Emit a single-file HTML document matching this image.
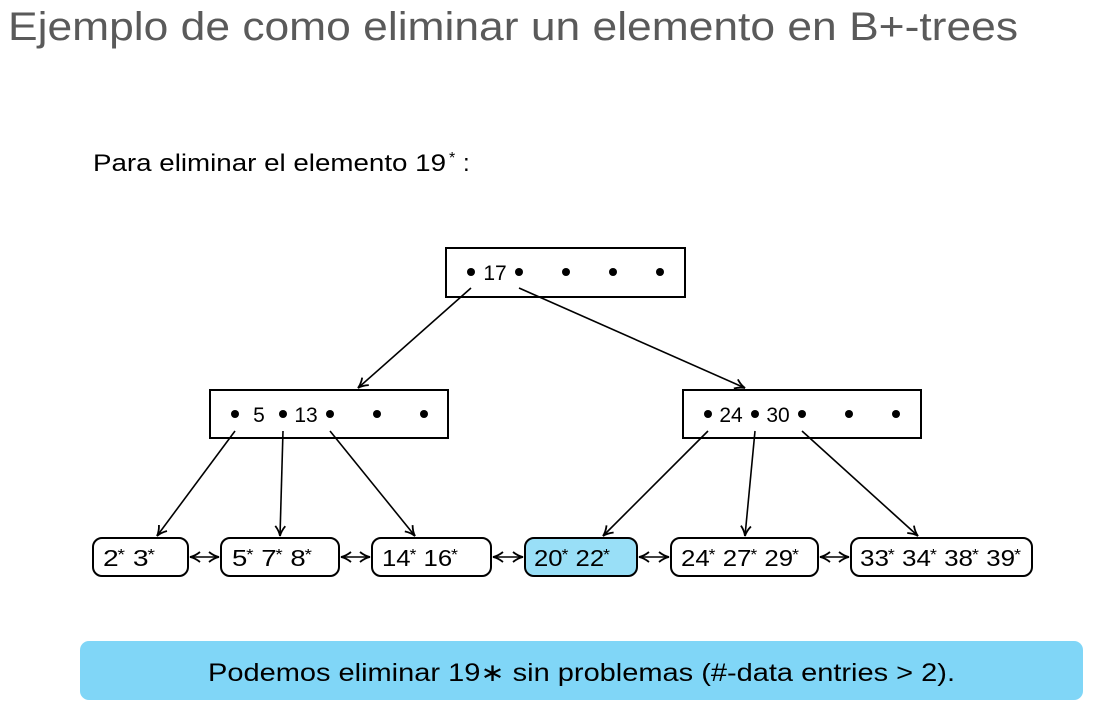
<!DOCTYPE html>
<html><head><meta charset="utf-8"><style>
html,body{margin:0;padding:0;background:#fff;}
svg{display:block;}
text{font-family:"Liberation Sans",sans-serif;}
</style></head><body>
<svg width="1099" height="709" viewBox="0 0 1099 709" xmlns="http://www.w3.org/2000/svg">
<defs>
<marker id="a" markerWidth="14" markerHeight="14" refX="11" refY="6" orient="auto" markerUnits="userSpaceOnUse">
<path d="M1,1 Q6,5 11,6 Q6,7 1,11" fill="none" stroke="#000" stroke-width="1.8"/>
</marker>
<marker id="s" markerWidth="14" markerHeight="14" refX="1" refY="6" orient="auto" markerUnits="userSpaceOnUse">
<path d="M11,1 Q6,5 1,6 Q6,7 11,11" fill="none" stroke="#000" stroke-width="1.8"/>
</marker>
</defs>
<text x="8" y="40" font-size="40" fill="#5a5a5a" textLength="1010" lengthAdjust="spacingAndGlyphs">Ejemplo de como eliminar un elemento en B+-trees</text>
<text x="93" y="171" font-size="24" fill="#000" textLength="353" lengthAdjust="spacingAndGlyphs">Para eliminar el elemento 19</text>
<text x="449" y="163" font-size="16" fill="#000">*</text>
<text x="463" y="171" font-size="24" fill="#000">:</text>

<g stroke="#000" stroke-width="2" fill="#fff">
<rect x="446" y="248" width="239" height="49"/>
<rect x="210" y="390" width="238" height="48"/>
<rect x="683" y="390" width="238" height="48"/>
</g>
<g fill="#000">
<circle cx="471" cy="272" r="4"/><circle cx="519" cy="272" r="4"/><circle cx="566" cy="272" r="4"/><circle cx="613" cy="272" r="4"/><circle cx="660" cy="272" r="4"/>
<circle cx="235" cy="414" r="4"/><circle cx="283" cy="414" r="4"/><circle cx="330" cy="414" r="4"/><circle cx="377" cy="414" r="4"/><circle cx="424" cy="414" r="4"/>
<circle cx="708" cy="414" r="4"/><circle cx="755" cy="414" r="4"/><circle cx="802" cy="414" r="4"/><circle cx="849" cy="414" r="4"/><circle cx="896" cy="414" r="4"/>
</g>
<g font-size="21" fill="#000" text-anchor="middle">
<text x="495" y="280">17</text>
<text x="259" y="422">5</text><text x="306" y="422">13</text>
<text x="731" y="422">24</text><text x="778" y="422">30</text>
</g>

<g stroke="#000" stroke-width="1.6" fill="none" marker-end="url(#a)">
<line x1="471" y1="288" x2="358" y2="388"/>
<line x1="519" y1="288" x2="745" y2="388"/>
<line x1="235" y1="431" x2="157" y2="536"/>
<line x1="283" y1="431" x2="280" y2="536"/>
<line x1="330" y1="431" x2="415" y2="536"/>
<line x1="708" y1="431" x2="603" y2="536"/>
<line x1="755" y1="431" x2="745" y2="536"/>
<line x1="802" y1="431" x2="918" y2="536"/>
</g>

<g stroke="#000" stroke-width="2">
<rect x="93" y="538" width="95" height="38" rx="9" fill="#fff"/>
<rect x="221" y="538" width="118" height="38" rx="9" fill="#fff"/>
<rect x="372" y="538" width="119" height="38" rx="9" fill="#fff"/>
<rect x="525" y="538" width="112" height="38" rx="9" fill="#99dff7"/>
<rect x="671" y="538" width="147" height="38" rx="9" fill="#fff"/>
<rect x="851" y="538" width="181" height="38" rx="9" fill="#fff"/>
</g>
<g stroke="#000" stroke-width="1.6" fill="none" marker-end="url(#a)" marker-start="url(#s)">
<line x1="190" y1="557" x2="219" y2="557"/>
<line x1="341" y1="557" x2="370" y2="557"/>
<line x1="493" y1="557" x2="523" y2="557"/>
<line x1="639" y1="557" x2="669" y2="557"/>
<line x1="820" y1="557" x2="849" y2="557"/>
</g>
<g font-size="23" fill="#000">
<text x="103" y="566" textLength="52" lengthAdjust="spacingAndGlyphs">2<tspan font-size="16" dy="-6" dx="-1">*</tspan><tspan dy="6"> 3</tspan><tspan font-size="16" dy="-6" dx="-1">*</tspan></text>
<text x="232" y="566" textLength="80" lengthAdjust="spacingAndGlyphs">5<tspan font-size="16" dy="-6" dx="-1">*</tspan><tspan dy="6"> 7</tspan><tspan font-size="16" dy="-6" dx="-1">*</tspan><tspan dy="6"> 8</tspan><tspan font-size="16" dy="-6" dx="-1">*</tspan></text>
<text x="382" y="566" textLength="76" lengthAdjust="spacingAndGlyphs">14<tspan font-size="16" dy="-6" dx="-1">*</tspan><tspan dy="6"> 16</tspan><tspan font-size="16" dy="-6" dx="-1">*</tspan></text>
<text x="534" y="566" textLength="76" lengthAdjust="spacingAndGlyphs">20<tspan font-size="16" dy="-6" dx="-1">*</tspan><tspan dy="6"> 22</tspan><tspan font-size="16" dy="-6" dx="-1">*</tspan></text>
<text x="681" y="566" textLength="118" lengthAdjust="spacingAndGlyphs">24<tspan font-size="16" dy="-6" dx="-1">*</tspan><tspan dy="6"> 27</tspan><tspan font-size="16" dy="-6" dx="-1">*</tspan><tspan dy="6"> 29</tspan><tspan font-size="16" dy="-6" dx="-1">*</tspan></text>
<text x="860" y="566" textLength="161" lengthAdjust="spacingAndGlyphs">33<tspan font-size="16" dy="-6" dx="-1">*</tspan><tspan dy="6"> 34</tspan><tspan font-size="16" dy="-6" dx="-1">*</tspan><tspan dy="6"> 38</tspan><tspan font-size="16" dy="-6" dx="-1">*</tspan><tspan dy="6"> 39</tspan><tspan font-size="16" dy="-6" dx="-1">*</tspan></text>
</g>

<rect x="80" y="641" width="1003" height="59" rx="9" fill="#80d6f7"/>
<text x="208" y="681" font-size="25" fill="#000" textLength="747" lengthAdjust="spacingAndGlyphs">Podemos eliminar 19∗ sin problemas (#-data entries &gt; 2).</text>
</svg>
</body></html>
